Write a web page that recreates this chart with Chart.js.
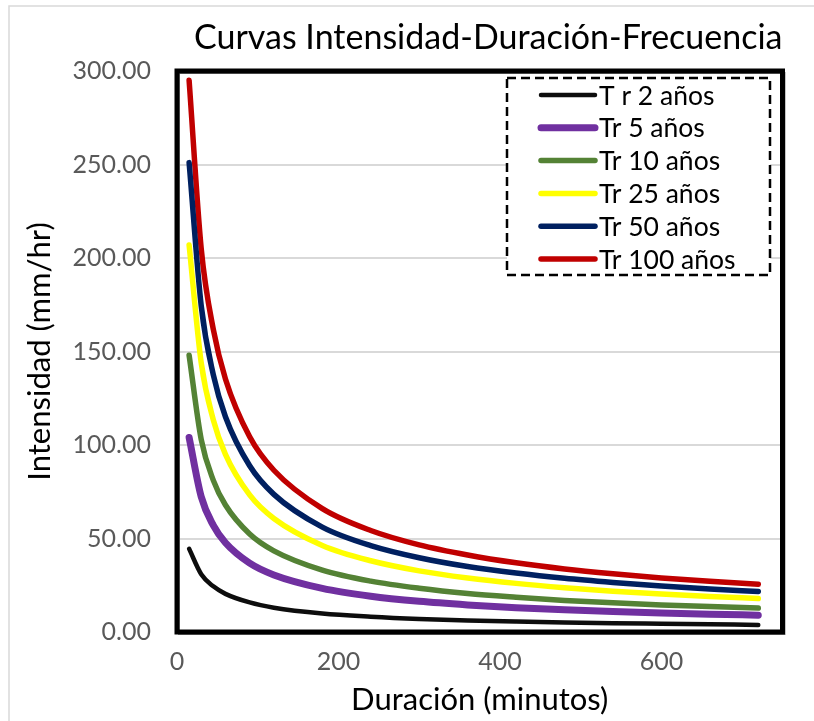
<!DOCTYPE html>
<html>
<head>
<meta charset="utf-8">
<title>Curvas IDF</title>
<script src="https://cdn.jsdelivr.net/npm/chart.js@4.4.1/dist/chart.umd.min.js"></script>
<style>
  html, body { margin: 0; padding: 0; background: #ffffff; }
  #wrap { position: relative; width: 814px; height: 721px; }
</style>
</head>
<body>
<div id="wrap"><canvas id="curvasIDF" width="814" height="721"></canvas></div>
<script>
const duraciones = [15, 30, 45, 60, 90, 120, 180, 240, 300, 360, 420, 480, 540, 600, 660, 720];

const tr2   = [44.5, 30.9, 24.4, 20.4, 15.8, 13.0, 9.9, 8.2, 7.0, 6.2, 5.6, 5.1, 4.7, 4.4, 4.1, 3.8];
const tr5   = [104, 72.3, 57.0, 47.7, 36.8, 30.5, 23.3, 19.1, 16.4, 14.5, 13.0, 11.9, 11.0, 10.2, 9.5, 9.0];
const tr10  = [148, 102.9, 81.1, 67.9, 52.4, 43.4, 33.1, 27.2, 23.4, 20.6, 18.6, 16.9, 15.6, 14.5, 13.6, 12.8];
const tr25  = [207, 143.9, 113.4, 95.0, 73.3, 60.7, 46.3, 38.1, 32.7, 28.9, 26.0, 23.7, 21.8, 20.3, 19.0, 17.9];
const tr50  = [251, 174.4, 137.5, 115.1, 88.9, 73.6, 56.1, 46.2, 39.7, 35.0, 31.5, 28.7, 26.5, 24.6, 23.0, 21.7];
const tr100 = [295, 205.0, 161.7, 135.3, 104.4, 86.5, 66.0, 54.3, 46.6, 41.2, 37.0, 33.7, 31.1, 28.9, 27.1, 25.5];

const etiquetas = ["T r 2 años", "Tr 5 años", "Tr 10 años", "Tr 25 años", "Tr 50 años", "Tr 100 años"];
const colores   = ["#0d0d0d", "#7030a0", "#548235", "#ffff00", "#002060", "#c00000"];
const grosores  = [4.5, 7, 5.5, 5.5, 5.5, 5.5];

const ticksX = [0, 200, 400, 600];
const ticksY = [0, 50, 100, 150, 200, 250, 300];

const series = [tr2, tr5, tr10, tr25, tr50, tr100];

const fuente = "Lato, 'Open Sans', sans-serif";

// Marco negro del area de trazado
const marcoPlugin = {
    id: 'marco',
    beforeDraw(chart) {
        const ctx = chart.ctx;
        ctx.save();
        ctx.strokeStyle = '#d9d9d9';
        ctx.lineWidth = 1.5;
        ctx.beginPath();
        ctx.moveTo(9, 721);
        ctx.lineTo(9, 6);
        ctx.lineTo(814, 6);
        ctx.stroke();
        ctx.restore();
    },
    afterDatasetsDraw(chart) {
        const {ctx, chartArea: a} = chart;
        ctx.save();
        ctx.strokeStyle = '#8c8c8c';
        ctx.lineWidth = 2;
        ctx.strokeRect(a.left + 2, a.top + 2, a.right - a.left, a.bottom - a.top);
        ctx.strokeStyle = '#000000';
        ctx.lineWidth = 5;
        ctx.strokeRect(a.left, a.top, a.right - a.left, a.bottom - a.top);
        ctx.restore();
    }
};

// Leyenda con recuadro punteado dentro del area de trazado
const leyendaPlugin = {
    id: 'leyendaInterna',
    afterDraw(chart) {
        const ctx = chart.ctx;
        const box = {x: 507, y: 78, w: 263, h: 197};
        ctx.save();
        ctx.fillStyle = '#ffffff';
        ctx.fillRect(box.x, box.y, box.w, box.h);
        ctx.setLineDash([9, 5]);
        ctx.lineWidth = 2.5;
        ctx.strokeStyle = '#000000';
        ctx.strokeRect(box.x, box.y, box.w, box.h);
        ctx.setLineDash([]);

        ctx.font = '26.5px ' + fuente;
        ctx.textBaseline = 'middle';
        ctx.textAlign = 'left';
        chart.data.datasets.forEach((ds, i) => {
            const y = 95 + i * 32.8;
            ctx.strokeStyle = ds.borderColor;
            ctx.lineWidth = ds.borderWidth;
            ctx.lineCap = 'round';
            ctx.beginPath();
            ctx.moveTo(541, y);
            ctx.lineTo(595, y);
            ctx.stroke();
            ctx.fillStyle = '#000000';
            ctx.fillText(ds.label, 599, y + 1);
        });
        ctx.restore();
    }
};

const datasets = series.map((valores, i) => ({
    label: etiquetas[i],
    data: duraciones.map((d, j) => ({x: d, y: valores[j]})),
    borderColor: colores[i],
    backgroundColor: colores[i],
    borderWidth: grosores[i],
    borderCapStyle: 'round',
    borderJoinStyle: 'round',
    pointRadius: 0,
    cubicInterpolationMode: 'monotone',
    fill: false
}));

const config = {
    type: 'line',
    data: { datasets: datasets },
    options: {
        responsive: false,
        devicePixelRatio: 1,
        animation: false,
        layout: { padding: { left: 0, right: 31.5, top: 0, bottom: 0 } },
        plugins: {
            legend: { display: false },
            tooltip: { enabled: false },
            title: {
                display: true,
                text: 'Curvas Intensidad-Duración-Frecuencia',
                align: 'end',
                color: '#000000',
                font: { family: fuente, size: 34, weight: 'normal' },
                padding: { top: 17.6, bottom: 12.6 }
            }
        },
        scales: {
            x: {
                type: 'linear',
                min: 0,
                max: 750,
                afterBuildTicks: axis => {
                    axis.ticks = ticksX.map(v => ({value: v}));
                },
                afterFit: scale => { scale.height = 89; },
                grid: { display: false, drawTicks: false },
                border: { display: false },
                ticks: {
                    color: '#595959',
                    padding: 15,
                    font: { family: fuente, size: 25 },
                    maxRotation: 0
                },
                title: {
                    display: true,
                    text: 'Duración (minutos)',
                    color: '#000000',
                    font: { family: fuente, size: 31 },
                    padding: { top: 0, bottom: 2.4 }
                }
            },
            y: {
                min: 0,
                max: 300,
                afterBuildTicks: axis => {
                    axis.ticks = ticksY.map(v => ({value: v}));
                },
                afterFit: scale => { scale.width = 177; },
                grid: { color: '#d9d9d9', lineWidth: 2, drawTicks: false },
                border: { display: false },
                ticks: {
                    color: '#595959',
                    padding: 26,
                    font: { family: fuente, size: 25 },
                    callback: v => v.toFixed(2)
                },
                title: {
                    display: true,
                    text: 'Intensidad (mm/hr)',
                    color: '#000000',
                    font: { family: fuente, size: 31 },
                    padding: { top: 21.4, bottom: 0 }
                }
            }
        }
    },
    plugins: [marcoPlugin, leyendaPlugin]
};

new Chart(document.getElementById('curvasIDF'), config);
</script>
</body>
</html>
